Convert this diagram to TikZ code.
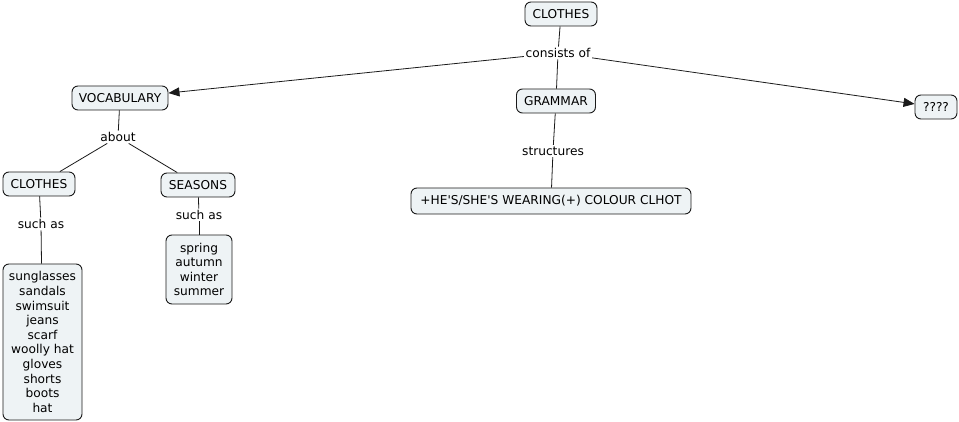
\documentclass[tikz,border=0pt]{standalone}
\usepackage{fontspec}
\setmainfont{DejaVu Sans}
\usetikzlibrary{arrows.meta}
\definecolor{cfill}{HTML}{EEF3F5}
\definecolor{cline}{HTML}{1A1A1A}
\begin{document}
\begin{tikzpicture}[x=1pt,y=-1pt,
  concept/.style={draw=cline, fill=cfill, rounded corners=6pt, line width=0.9pt,
    inner sep=0pt, font=\fontsize{12.2}{14.6}\selectfont, align=center},
  linklabel/.style={inner sep=1.5pt, font=\fontsize{12.2}{14}\selectfont},
  conn/.style={draw=cline, line width=0.8pt},
  arr/.style={conn, -{Triangle[length=11pt,width=9pt]}}]
\useasboundingbox (0,0) rectangle (959,422);
\node[concept, minimum width=72pt, minimum height=24pt] (clothes) at (561,14) {CLOTHES};
\node[linklabel] (consists) at (558,53) {consists of};
\node[concept, minimum width=96pt, minimum height=24pt] (vocab) at (120,98) {VOCABULARY};
\node[concept, minimum width=79pt, minimum height=24pt] (grammar) at (556,101) {GRAMMAR};
\node[concept, minimum width=42pt, minimum height=24pt] (q) at (936,107) {????};
\node[linklabel] (about) at (118,137) {about};
\node[concept, minimum width=72pt, minimum height=24pt] (clothes2) at (39,184) {CLOTHES};
\node[concept, minimum width=74pt, minimum height=24pt] (seasons) at (198,185) {SEASONS};
\node[linklabel] (structures) at (553,151) {structures};
\node[concept, minimum width=280pt, minimum height=26pt] (hes) at (551,201) {+HE\textquotesingle S/SHE\textquotesingle S WEARING(+) COLOUR CLHOT};
\node[linklabel] (such1) at (41,224) {such as};
\node[linklabel] (such2) at (199,215) {such as};
\node[concept, minimum width=79pt, minimum height=156pt] (list1) at (42.5,342) {sunglasses\\sandals\\swimsuit\\jeans\\scarf\\woolly hat\\gloves\\shorts\\boots\\hat};
\node[concept, minimum width=66pt, minimum height=69pt] (list2) at (199,269.5) {spring\\autumn\\winter\\summer};

\draw[conn] (clothes) -- (consists);
\draw[conn] (consists) -- (grammar);
\draw[arr] (consists) -- (vocab);
\draw[arr] (consists) -- (q);
\draw[conn] (vocab) -- (about);
\draw[conn] (about) -- (clothes2);
\draw[conn] (about) -- (seasons);
\draw[conn] (grammar) -- (structures);
\draw[conn] (structures) -- (hes);
\draw[conn] (clothes2) -- (such1);
\draw[conn] (such1) -- (list1);
\draw[conn] (seasons) -- (such2);
\draw[conn] (such2) -- (list2);
\end{tikzpicture}
\end{document}
